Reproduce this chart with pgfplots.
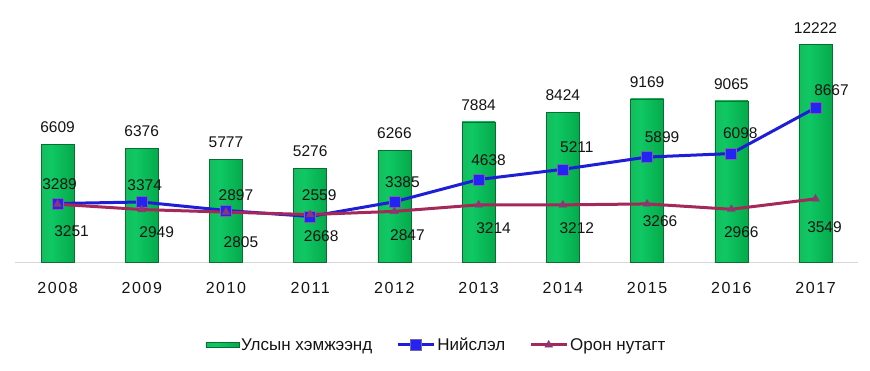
\documentclass[border=0pt]{standalone}
\usepackage{fontspec}
\setmainfont{Liberation Sans}
\newfontfamily\tickfont[LetterSpace=10]{Liberation Sans}
\usepackage{pgfplots}
\usepackage{pgfplotstable}
\pgfplotsset{compat=1.18}
\definecolor{gL}{RGB}{30,170,80}
\definecolor{gM}{RGB}{15,200,100}
\definecolor{gM2}{RGB}{5,170,75}
\definecolor{gR}{RGB}{0,85,35}
\definecolor{gEdge}{RGB}{10,110,50}
\definecolor{bline}{RGB}{30,30,215}
\definecolor{bmark}{RGB}{35,35,245}
\definecolor{bedge}{RGB}{120,100,160}
\definecolor{rline}{RGB}{165,40,90}
\definecolor{rmark}{RGB}{140,55,115}
\definecolor{axgray}{RGB}{215,215,215}
\definecolor{txt}{RGB}{20,20,20}
\pgfdeclarehorizontalshading{barshade}{100bp}{color(0bp)=(gL); color(40bp)=(gM); color(75bp)=(gM2); color(100bp)=(gR)}

\pgfplotstableread{
x y dx dy
0 3289 2 19
1 3374 3 17
2 2897 10 15
3 2559 9 21
4 3385 8 20
5 4638 10 19
6 5211 14 22
7 5899 15 20
8 6098 9 20
9 8667 16 18
}\blue
\pgfplotstableread{
x y dx dy
0 3251 14 -27
1 2949 15 -23
2 2805 15 -30
3 2668 11 -22
4 2847 13 -24
5 3214 15 -23
6 3212 14 -23
7 3266 13 -17
8 2966 10 -23
9 3549 9 -28
}\red

\pgfplotsset{
  linelegend/.style={legend image code/.code={\draw[##1, mark repeat=2, mark phase=2] plot coordinates {(0pt,0pt) (18pt,0pt) (36pt,0pt)};}},
  barlegend/.style={legend image code/.code={\shade[shading=barshade, shading angle=0, draw=gEdge] (0pt,-2.5pt) rectangle (33pt,2.5pt);}},
  barstyle/.style={draw=gEdge, line width=0.4pt, shading=barshade, shading angle=0,
    ybar, bar width=33pt, nodes near coords,
    every node near coord/.append style={anchor=center, yshift=17pt, text=txt, font=\fontsize{15.5}{17}\selectfont},
    barlegend},
}
\newcommand{\onebar}[2]{\addplot[barstyle, forget plot] coordinates {(#1,#2)};}

\begin{document}
\begin{tikzpicture}
\useasboundingbox (-15.4pt,-108pt) rectangle (854.6pt,262pt);
\begin{axis}[
  at={(0,0)}, anchor=south west,
  scale only axis,
  width=842.2pt, height=249pt,
  xmin=-0.5, xmax=9.5,
  ymin=0, ymax=14000,
  axis x line*=bottom,
  axis y line=none,
  x axis line style={axgray, line width=0.8pt, -},
  xtick={0,...,9},
  xticklabels={2008,2009,2010,2011,2012,2013,2014,2015,2016,2017},
  major tick length=0pt,
  xticklabel style={font=\tickfont\fontsize{16}{18}\selectfont, text=txt, yshift=-17pt},
  /pgf/number format/assume math mode=true,
  /pgf/number format/1000 sep={},
  clip=false,
  legend style={at={(0.5,-0.333)}, anchor=center, draw=none, fill=none,
    legend columns=3, font=\fontsize{17}{19}\selectfont, text=txt,
    /tikz/every even column/.append style={column sep=22pt},
    /tikz/every odd column/.append style={column sep=0pt}},
]
\addplot[barstyle] coordinates {(0,6609)};
\addlegendentry{Улсын хэмжээнд}
\onebar{1}{6376}
\onebar{2}{5777}
\onebar{3}{5276}
\onebar{4}{6266}
\onebar{5}{7884}
\onebar{6}{8424}
\onebar{7}{9169}
\onebar{8}{9065}
\onebar{9}{12222}

\addplot[color=bline, line width=3pt, mark=square*, mark size=5.5pt,
  mark options={fill=bmark, draw=bedge, line width=0.6pt},
  nodes near coords, point meta=explicit,
  visualization depends on={\thisrow{dx}\as\dx},
  visualization depends on={\thisrow{dy}\as\dy},
  every node near coord/.append style={anchor=center, xshift=\dx pt, yshift=\dy pt, text=txt, font=\fontsize{15.5}{17}\selectfont},
  linelegend
] table[x=x,y=y,meta=y] {\blue};
\addlegendentry{Нийслэл}

\addplot[color=rline, line width=3pt, mark=triangle*, mark size=4.5pt,
  mark options={fill=rmark, draw=rmark, line width=0.4pt},
  nodes near coords, point meta=explicit,
  visualization depends on={\thisrow{dx}\as\dx},
  visualization depends on={\thisrow{dy}\as\dy},
  every node near coord/.append style={anchor=center, xshift=\dx pt, yshift=\dy pt, text=txt, font=\fontsize{15.5}{17}\selectfont},
  linelegend
] table[x=x,y=y,meta=y] {\red};
\addlegendentry{Орон нутагт}
\end{axis}
\end{tikzpicture}
\end{document}
